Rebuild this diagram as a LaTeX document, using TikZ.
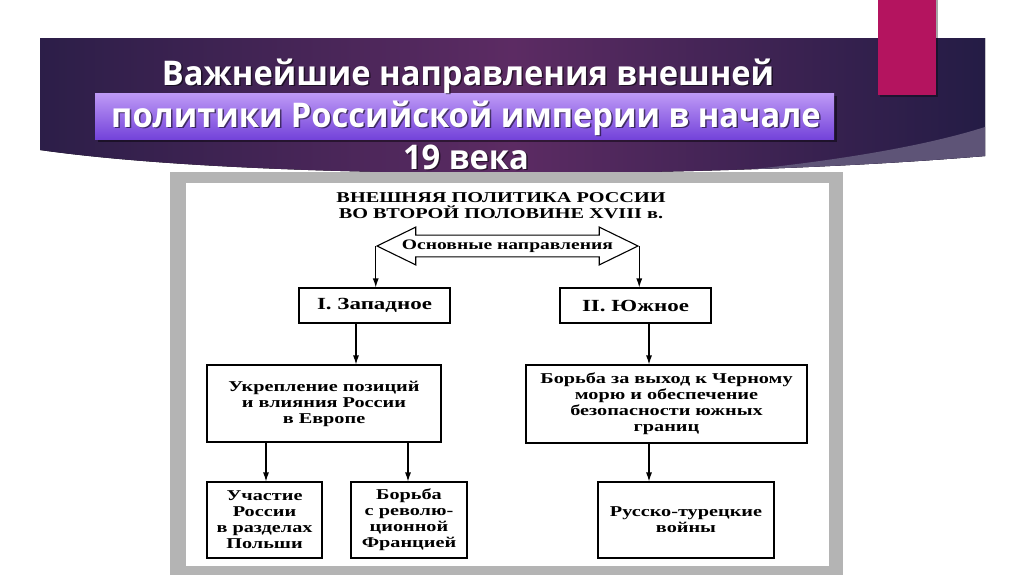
\documentclass[tikz,border=0pt]{standalone}
\usepackage{fontspec}
\usepackage{tikz}
\usetikzlibrary{shapes, arrows.meta, positioning, calc}
\setmainfont{Liberation Serif}
\newfontfamily\titlefont[FakeStretch=0.96]{Open Sans}
\newfontfamily\schemefont[FakeStretch=1.35]{Liberation Serif}
\definecolor{bannerdark}{HTML}{2C1E48}
\definecolor{bannermid}{HTML}{5C2B63}
\definecolor{bannernavy}{HTML}{241C45}
\definecolor{bandgray}{HTML}{5E5477}
\definecolor{accent}{HTML}{B4145F}
\definecolor{hltop}{HTML}{BE9AF6}
\definecolor{hlbot}{HTML}{7443DA}
\definecolor{framegray}{HTML}{B4B4B4}
\tikzstyle{titletext} = [text=white, font=\titlefont\bfseries\fontsize{34}{38}\selectfont, inner sep=0pt]
\tikzstyle{titleshadow} = [text=black, opacity=0.55, font=\titlefont\bfseries\fontsize{34}{38}\selectfont, inner sep=0pt]
\tikzstyle{dirbox} = [rectangle, draw=black, line width=1.1pt, fill=white, align=center, inner sep=0pt, font=\schemefont\bfseries\fontsize{15}{16}\selectfont]
\tikzstyle{mainarrow} = [double arrow, draw=black, line width=1.1pt, fill=white, minimum height=261pt, double arrow head extend=8pt, double arrow tip angle=52, inner xsep=2pt, inner ysep=4pt, font=\schemefont\bfseries\fontsize{14.5}{16}\selectfont]
\tikzstyle{arr} = [-{Latex[length=9pt,width=6pt]}, line width=1.1pt]

\begin{document}
\begin{tikzpicture}[x=1pt, y=-1pt]
\useasboundingbox (0,0) rectangle (1024,574);
\fill[white] (0,0) rectangle (1024,574);

% banner
\fill[left color=bannerdark, right color=bannernavy, middle color=bannermid] (40,38) -- (985,38) -- (985,156) .. controls (700,180) and (250,180) .. (40,150) -- cycle;
\begin{scope}
\clip (40,38) -- (985,38) -- (985,156) .. controls (700,180) and (250,180) .. (40,150) -- cycle;
\fill[bandgray] (985,127) .. controls (900,154) and (760,172) .. (600,182) -- (600,200) -- (985,200) -- cycle;
\end{scope}
\fill[black, opacity=0.35] (880,0) rectangle (938,97);
\fill[accent] (878,0) rectangle (936,95);

% highlight under second line
\fill[black, opacity=0.45] (98,96) rectangle (837,142);
\fill[top color=hltop, bottom color=hlbot] (95,93) rectangle (834,139);

% title
\node (t1s) [titleshadow] at (469.5,77.5) {Важнейшие направления внешней};
\node (t1) [titletext] at (468,76) {Важнейшие направления внешней};
\node (t2s) [titleshadow] at (467.5,119.5) {политики Российской империи в начале};
\node (t2) [titletext] at (466,118) {политики Российской империи в начале};
\node (t3s) [titleshadow] at (467.5,158.5) {19 века};
\node (t3) [titletext] at (466,157) {19 века};

% scanned scheme
\fill[framegray] (170,172) rectangle (843,575);
\fill[white] (186,183) rectangle (829,566);

\node (head) [align=center, inner sep=0pt, font=\schemefont\bfseries\fontsize{15}{15.5}\selectfont] at (501,205.5) {ВНЕШНЯЯ ПОЛИТИКА РОССИИ\\ВО ВТОРОЙ ПОЛОВИНЕ XVIII в.};
\node (dirs) [mainarrow] at (507.5,246) {Основные направления};

\node (zap) [dirbox, minimum width=151pt, minimum height=35pt, font=\schemefont\bfseries\fontsize{17}{18}\selectfont] at (374.5,305.5) {I. Западное};
\node (yug) [dirbox, minimum width=151pt, minimum height=35pt, font=\schemefont\bfseries\fontsize{17}{18}\selectfont] at (635.5,305.5) {II. Южное};
\node (ukr) [dirbox, minimum width=234pt, minimum height=77pt] at (324,403.5) {Укрепление позиций\\и влияния России\\в Европе};
\node (chern) [dirbox, minimum width=281pt, minimum height=78pt] at (666.5,404) {Борьба за выход к Черному\\морю и обеспечение\\безопасности южных\\границ};
\node (pol) [dirbox, minimum width=115pt, minimum height=76pt] at (264.5,520) {Участие\\России\\в разделах\\Польши};
\node (fra) [dirbox, minimum width=116pt, minimum height=76pt] at (409,520) {Борьба\\с револю-\\ционной\\Францией};
\node (tur) [dirbox, minimum width=176pt, minimum height=76pt] at (686,520) {Русско-турецкие\\войны};

\draw[arr] (dirs.west) -- (dirs.west |- zap.north);
\draw[arr] (dirs.east) -- (dirs.east |- yug.north);
\draw[arr] ([xshift=-18.5pt]zap.south) -- ([xshift=-18.5pt]zap.south |- ukr.north);
\draw[arr] ([xshift=13.5pt]yug.south) -- ([xshift=13.5pt]yug.south |- chern.north);
\draw[arr] ([xshift=1.5pt]pol.north |- ukr.south) -- ([xshift=1.5pt]pol.north);
\draw[arr] ([xshift=-1pt]fra.north |- ukr.south) -- ([xshift=-1pt]fra.north);
\draw[arr] ([xshift=-17.5pt]chern.south) -- ([xshift=-17.5pt]chern.south |- tur.north);
\end{tikzpicture}
\end{document}
